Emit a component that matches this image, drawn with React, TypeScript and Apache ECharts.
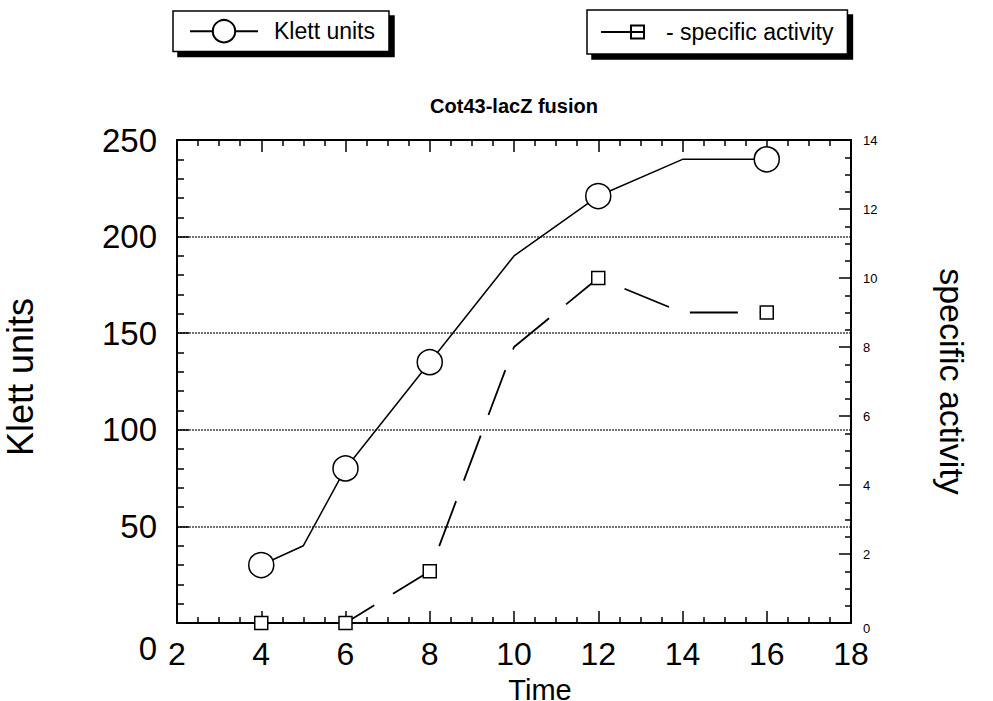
import React, { useEffect, useRef } from "react";
import * as echarts from "echarts";

const timePoints = [4, 5, 6, 8, 10, 12, 14, 16];
const klettValues = [30, 40, 80, 135, 190, 221, 240, 240];
const activityTimes = [4, 6, 8, 10, 12, 14, 16];
const activityValues = [0, 0, 1.5, 8, 10, 9, 9];
const markedTimes = [4, 6, 8, 12, 16];

const FONT = "Liberation Sans, Arial, sans-serif";

export default function App() {
  const ref = useRef<HTMLDivElement>(null);
  useEffect(() => {
    if (!ref.current) return;
    const chart = echarts.init(ref.current, null, { renderer: "svg" });
    const klettData = timePoints.map((t, i) => ({
      value: [t, klettValues[i]],
      symbolSize: markedTimes.includes(t) ? 25 : 0,
    }));
    const actData = activityTimes.map((t, i) => ({
      value: [t, activityValues[i]],
      symbolSize: markedTimes.includes(t) ? 13 : 0,
    }));
    const tick = { show: true, inside: true, length: 12, lineStyle: { color: "#000", width: 1.5 } };
    const axisLine = { show: true, onZero: false, lineStyle: { color: "#000", width: 2 } };
    chart.setOption({
      animation: false,
      backgroundColor: "#fff",
      textStyle: { fontFamily: FONT, color: "#000" },
      title: {
        text: "Cot43-lacZ fusion",
        left: 514,
        textAlign: "center",
        top: 96,
        padding: 0,
        textStyle: { fontFamily: FONT, fontSize: 20, fontWeight: "bold", color: "#000" },
      },
      legend: [
        {
          data: ["Klett units"],
          left: 173,
          top: 11,
          itemWidth: 68,
          itemHeight: 28,
          padding: [8, 14, 8, 16],
          borderColor: "#000",
          borderWidth: 1.5,
          backgroundColor: "#fff",
          shadowColor: "#000",
          shadowBlur: 0,
          shadowOffsetX: 5,
          shadowOffsetY: 5,
          textStyle: { fontFamily: FONT, fontSize: 23, color: "#000", padding: [0, 0, 0, 11] },
        },
        {
          data: [
            {
              name: "specific activity",
              icon: "path://M0,6.5L43,6.5M30,0L43,0L43,13L30,13Z",
            },
          ],
          left: 587,
          top: 10,
          itemWidth: 43,
          itemHeight: 13,
          padding: [9, 14, 9, 13],
          borderColor: "#000",
          borderWidth: 1.5,
          backgroundColor: "#fff",
          shadowColor: "#000",
          shadowBlur: 0,
          shadowOffsetX: 5,
          shadowOffsetY: 5,
          formatter: (n: string) => "- " + n,
          textStyle: {
            fontFamily: FONT,
            fontSize: 23,
            color: "#000",
            lineHeight: 26,
            padding: [0, 0, 0, 17],
          },
        },
      ],
      grid: {
        left: 177,
        right: 142,
        top: 140,
        bottom: 78,
        containLabel: false,
        outerBoundsMode: "none",
      },
      xAxis: [
        {
          type: "value",
          min: 2,
          max: 18,
          interval: 2,
          name: "Time",
          nameLocation: "middle",
          nameGap: 44,
          nameTextStyle: {
            fontFamily: FONT,
            fontSize: 29,
            lineHeight: 30,
            color: "#000",
            padding: [0, 0, 0, 52],
          },
          axisLine,
          axisTick: tick,
          minorTick: { show: true, splitNumber: 4, length: 6, lineStyle: { color: "#000", width: 1.5 } },
          axisLabel: { fontFamily: FONT, fontSize: 32, color: "#000", margin: 15 },
          splitLine: { show: false },
        },
        {
          type: "value",
          position: "top",
          min: 2,
          max: 18,
          interval: 2,
          axisLine,
          axisTick: tick,
          minorTick: { show: true, splitNumber: 4, length: 6, lineStyle: { color: "#000", width: 1.5 } },
          axisLabel: { show: false },
          splitLine: { show: false },
        },
      ],
      yAxis: [
        {
          type: "value",
          min: 0,
          max: 250,
          interval: 50,
          name: "Klett units",
          nameLocation: "middle",
          nameGap: 139,
          nameTextStyle: { fontFamily: FONT, fontSize: 36, color: "#000", padding: [0, 0, 0, 9] },
          axisLine,
          axisTick: tick,
          minorTick: { show: true, splitNumber: 5, length: 7, lineStyle: { color: "#000", width: 1.5 } },
          axisLabel: {
            fontFamily: FONT,
            fontSize: 33,
            color: "#000",
            margin: 20,
            formatter: (v: number) => (v === 0 ? "{z|0}" : String(v)),
            rich: { z: { fontFamily: FONT, fontSize: 33, color: "#000", padding: [50, 0, 0, 0] } },
          },
          splitLine: { show: true, lineStyle: { color: "#444", width: 1.5, type: [2, 1] } },
        },
        {
          type: "value",
          min: 0,
          max: 14,
          interval: 2,
          position: "right",
          name: "specific activity",
          nameLocation: "middle",
          nameRotate: -90,
          nameGap: 84,
          nameTextStyle: { fontFamily: FONT, fontSize: 34, color: "#000" },
          axisLine,
          axisTick: tick,
          minorTick: { show: true, splitNumber: 4, length: 6, lineStyle: { color: "#000", width: 1.5 } },
          axisLabel: {
            fontFamily: FONT,
            fontSize: 13,
            color: "#000",
            margin: 12,
            formatter: (v: number) => (v === 0 ? "{z|0}" : String(v)),
            rich: { z: { fontFamily: FONT, fontSize: 13, color: "#000", padding: [10, 0, 0, 0] } },
          },
          splitLine: { show: false },
        },
      ],
      series: [
        {
          name: "Klett units",
          type: "line",
          xAxisIndex: 0,
          yAxisIndex: 0,
          data: klettData,
          symbol: "circle",
          color: "#000",
          lineStyle: { color: "#000", width: 1.5 },
          itemStyle: { color: "#fff", borderColor: "#000", borderWidth: 1.5 },
          z: 3,
        },
        {
          name: "specific activity",
          type: "line",
          xAxisIndex: 0,
          yAxisIndex: 1,
          data: actData,
          symbol: "rect",
          color: "#000",
          lineStyle: { color: "#000", width: 1.8, type: [48, 22] },
          itemStyle: { color: "#fff", borderColor: "#000", borderWidth: 1.5 },
          z: 3,
        },
      ],
    });
    return () => chart.dispose();
  }, []);
  return (
    <div
      ref={ref}
      style={{ position: "fixed", left: 0, top: 0, width: 993, height: 701, overflow: "hidden" }}
    />
  );
}
